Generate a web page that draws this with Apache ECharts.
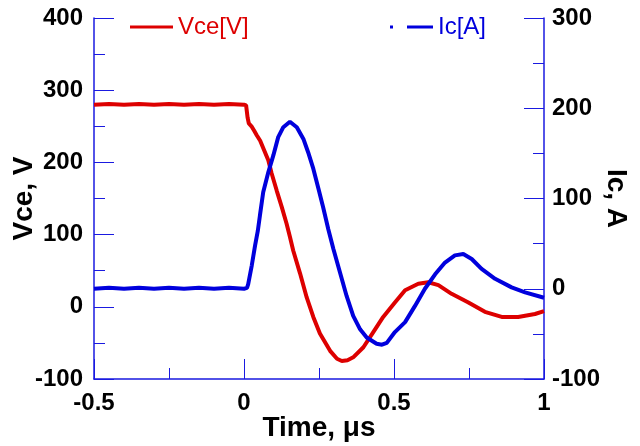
<!DOCTYPE html>
<html>
<head>
<meta charset="utf-8">
<script src="https://cdn.jsdelivr.net/npm/echarts@6/dist/echarts.min.js"></script>
<style>html,body{margin:0;padding:0;background:#fff}#c{width:640px;height:446px}</style>
</head>
<body>
<div id="c"></div>
<script>
// Time (µs) and values
var vceSeries = [
  [-0.5,280],[-0.45,281],[-0.4,280],[-0.35,281],[-0.3,280],[-0.25,281],[-0.2,280],[-0.15,281],
  [-0.1,280],[-0.05,281],[0,280],[0.007,279],[0.012,262],[0.016,254],[0.025,250],[0.035,243],
  [0.042,238],[0.054,230],[0.064,220],[0.081,203],[0.092,185],[0.109,161],[0.126,138],[0.142,115],
  [0.153,97],[0.164,78],[0.187,46],[0.209,13],[0.231,-14],[0.253,-37],[0.287,-61],[0.31,-72],
  [0.326,-75],[0.345,-74],[0.364,-70],[0.398,-56],[0.431,-35],[0.464,-14],[0.503,6],[0.537,23],
  [0.581,32],[0.614,34],[0.648,30],[0.692,18],[0.748,6],[0.803,-7],[0.859,-14],[0.914,-14],
  [0.97,-10],[1,-6]
];
var icSeries = [
  [-0.5,0],[-0.45,1],[-0.4,0],[-0.35,1],[-0.3,0],[-0.25,1],[-0.2,0],[-0.15,1],[-0.1,0],[-0.05,1],
  [0,0],[0.01,1],[0.014,5],[0.026,26],[0.037,48],[0.046,64],[0.053,81],[0.064,107],[0.081,129],
  [0.098,148],[0.114,168],[0.131,179],[0.153,185],[0.176,179],[0.198,166],[0.214,151],[0.231,133],
  [0.248,111],[0.264,90],[0.281,66],[0.298,44],[0.32,18],[0.342,-8],[0.364,-30],[0.387,-45],
  [0.409,-54],[0.442,-61],[0.46,-62],[0.476,-60],[0.503,-48],[0.537,-37],[0.57,-19],[0.603,0],
  [0.637,16],[0.67,29],[0.703,37],[0.731,38.5],[0.759,33],[0.792,22],[0.837,11],[0.892,1.5],
  [0.937,-4],[1,-10]
];
var xTicks = {min:-0.5, max:1, step:0.5};
var yLeftTicks = {min:-100, max:400, step:100};
var yRightTicks = {min:-100, max:300, step:100};
var names = {vce:'Vce[V]', ic:'Ic[A]', x:'Time, μs', yl:'Vce, V', yr:'Ic, A'};

var RED = '#dd0000', BLUE = '#0000dd', AXIS = '#1a1ae0';
var FONT = 'Liberation Sans, Arial, sans-serif';
var lbl = {color:'#000', fontSize:24, fontWeight:'bold', fontFamily:FONT};
var nm = {color:'#000', fontSize:28, fontWeight:'bold', fontFamily:FONT};
function axisCommon(){
  return {
    axisLine:{show:true, onZero:false, lineStyle:{color:AXIS, width:1.5}},
    axisTick:{show:true, inside:true, length:20, lineStyle:{color:AXIS, width:1}},
    minorTick:{show:true, splitNumber:2, length:11, lineStyle:{color:AXIS, width:1}},
    splitLine:{show:false}, minorSplitLine:{show:false},
    axisLabel:Object.assign({}, lbl),
    nameTextStyle:Object.assign({}, nm),
    nameLocation:'middle',
    nameMoveOverlap:false
  };
}
var xa = Object.assign(axisCommon(), {type:'value', min:xTicks.min, max:xTicks.max, interval:xTicks.step,
  name:names.x, nameGap:35});
xa.axisLabel.margin = 12;
var yl = Object.assign(axisCommon(), {type:'value', position:'left', min:yLeftTicks.min, max:yLeftTicks.max,
  interval:yLeftTicks.step, name:names.yl, nameRotate:90, nameGap:56});
yl.axisLabel.margin = 11;
var yr = Object.assign(axisCommon(), {type:'value', position:'right', min:yRightTicks.min, max:yRightTicks.max,
  interval:yRightTicks.step, name:names.yr, nameRotate:-90, nameGap:58});
yr.axisLabel.margin = 8;

var chart = echarts.init(document.getElementById('c'), null, {renderer:'canvas'});
chart.setOption({
  animation:false,
  backgroundColor:'#fff',
  grid:{left:94, right:96, top:18, bottom:67, containLabel:false, outerBoundsMode:'none'},
  legend:[
    {data:[{name:names.vce}], left:125, top:10, icon:'rect', itemWidth:43, itemHeight:3,
     textStyle:{color:RED, fontSize:24, fontFamily:FONT}},
    {data:[{name:names.ic}], left:385, top:10, icon:'path://M0,0h3v3h-3z M17,0h26v3h-26z', itemWidth:43, itemHeight:3,
     textStyle:{color:BLUE, fontSize:24, fontFamily:FONT}}
  ],
  xAxis:xa,
  yAxis:[yl, yr],
  series:[
    {name:names.vce, type:'line', yAxisIndex:0, data:vceSeries, symbol:'none', smooth:false,
     lineStyle:{color:RED, width:4}, itemStyle:{color:RED}},
    {name:names.ic, type:'line', yAxisIndex:1, data:icSeries, symbol:'none', smooth:false,
     lineStyle:{color:BLUE, width:4}, itemStyle:{color:BLUE}}
  ]
});
</script>
</body>
</html>
